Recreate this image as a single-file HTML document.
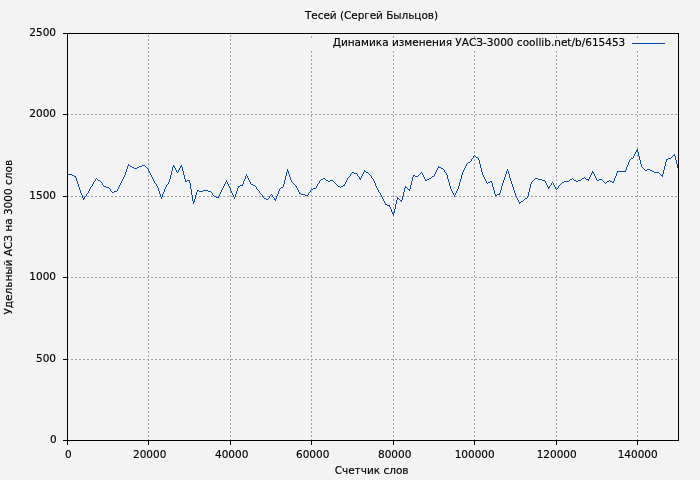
<!DOCTYPE html>
<html lang="ru"><head><meta charset="utf-8"><title>Тесей (Сергей Быльцов)</title>
<style>html,body{margin:0;padding:0;background:#f3f3f3;overflow:hidden}body{width:700px;height:480px}</style></head>
<body>
<svg width="700" height="480" viewBox="0 0 700 480" style="display:block">
<rect width="700" height="480" fill="#f3f3f3"/>
<g stroke="#a0a0a0" stroke-width="1" stroke-dasharray="2,2" shape-rendering="crispEdges"><line x1="148.5" y1="441" x2="148.5" y2="33"/><line x1="230.5" y1="441" x2="230.5" y2="33"/><line x1="311.5" y1="441" x2="311.5" y2="51"/><line x1="311.5" y1="38" x2="311.5" y2="36"/><line x1="393.5" y1="441" x2="393.5" y2="51"/><line x1="393.5" y1="38" x2="393.5" y2="36"/><line x1="474.5" y1="441" x2="474.5" y2="51"/><line x1="474.5" y1="38" x2="474.5" y2="36"/><line x1="556.5" y1="441" x2="556.5" y2="51"/><line x1="556.5" y1="38" x2="556.5" y2="36"/><line x1="637.5" y1="441" x2="637.5" y2="51"/><line x1="637.5" y1="38" x2="637.5" y2="36"/><line x1="67" y1="359.5" x2="678" y2="359.5"/><line x1="67" y1="277.5" x2="678" y2="277.5"/><line x1="67" y1="196.5" x2="678" y2="196.5"/><line x1="67" y1="114.5" x2="678" y2="114.5"/></g>
<g stroke="#000" stroke-width="1" shape-rendering="crispEdges"><line x1="67.5" y1="440" x2="67.5" y2="445"/><line x1="148.5" y1="440" x2="148.5" y2="445"/><line x1="230.5" y1="440" x2="230.5" y2="445"/><line x1="311.5" y1="440" x2="311.5" y2="445"/><line x1="393.5" y1="440" x2="393.5" y2="445"/><line x1="474.5" y1="440" x2="474.5" y2="445"/><line x1="556.5" y1="440" x2="556.5" y2="445"/><line x1="637.5" y1="440" x2="637.5" y2="445"/><line x1="63" y1="440.5" x2="67" y2="440.5"/><line x1="63" y1="359.5" x2="67" y2="359.5"/><line x1="63" y1="277.5" x2="67" y2="277.5"/><line x1="63" y1="196.5" x2="67" y2="196.5"/><line x1="63" y1="114.5" x2="67" y2="114.5"/><line x1="63" y1="33.5" x2="67" y2="33.5"/></g>
<g font-family="'DejaVu Sans', 'Liberation Sans', sans-serif" font-size="10.5px" fill="#000" stroke="#000" stroke-width="0.15">
<text x="56.8" y="442.6" text-anchor="end">0</text>
<text x="56" y="361.6" text-anchor="end">500</text>
<text x="56" y="279.6" text-anchor="end">1000</text>
<text x="56" y="198.6" text-anchor="end">1500</text>
<text x="56" y="116.6" text-anchor="end">2000</text>
<text x="56" y="35.6" text-anchor="end">2500</text>
<text x="68.4" y="458" text-anchor="middle">0</text>
<text x="149.7" y="458" text-anchor="middle">20000</text>
<text x="231.7" y="458" text-anchor="middle">40000</text>
<text x="312.7" y="458" text-anchor="middle">60000</text>
<text x="394.7" y="458" text-anchor="middle">80000</text>
<text x="474.7" y="458" text-anchor="middle">100000</text>
<text x="556.7" y="458" text-anchor="middle">120000</text>
<text x="637.7" y="458" text-anchor="middle">140000</text>
<text x="371.5" y="19.2" text-anchor="middle" textLength="133" lengthAdjust="spacing">Тесей (Сергей Быльцов)</text>
<text x="625.3" y="46.2" text-anchor="end">Динамика изменения УАСЗ-3000 coollib.net/b/615453</text>
<text x="371.6" y="473.7" text-anchor="middle">Счетчик слов</text>
<text transform="translate(11.8,237.2) rotate(-90)" text-anchor="middle">Удельный АСЗ на 3000 слов</text>
</g>
<line x1="632" y1="43.5" x2="665" y2="43.5" stroke="#0848ab" stroke-width="1" shape-rendering="crispEdges"/>
<path d="M67 174h1v1h-1zM68 174h1v1h-1zM69 174h1v1h-1zM70 174h1v1h-1zM71 174h1v1h-1zM72 175h1v1h-1zM73 175h1v1h-1zM74 176h1v1h-1zM75 176h1v2h-1zM76 178h1v3h-1zM77 181h1v3h-1zM78 184h1v3h-1zM79 187h1v3h-1zM80 190h1v3h-1zM81 193h1v2h-1zM82 195h1v3h-1zM83 198h1v2h-1zM84 197h1v2h-1zM85 196h1v1h-1zM86 194h1v2h-1zM87 193h1v1h-1zM88 191h1v2h-1zM89 189h1v2h-1zM90 187h1v2h-1zM91 186h1v1h-1zM92 184h1v2h-1zM93 182h1v2h-1zM94 181h1v1h-1zM95 179h1v2h-1zM96 178h1v1h-1zM97 179h1v1h-1zM98 180h1v1h-1zM99 180h1v1h-1zM100 181h1v1h-1zM101 182h1v1h-1zM102 183h1v2h-1zM103 185h1v1h-1zM104 186h1v1h-1zM105 186h1v1h-1zM106 187h1v1h-1zM107 187h1v1h-1zM108 187h1v1h-1zM109 188h1v1h-1zM110 189h1v2h-1zM111 191h1v1h-1zM112 192h1v1h-1zM113 192h1v1h-1zM114 191h1v1h-1zM115 191h1v1h-1zM116 191h1v1h-1zM117 189h1v2h-1zM118 187h1v2h-1zM119 185h1v2h-1zM120 183h1v2h-1zM121 181h1v2h-1zM122 179h1v2h-1zM123 177h1v2h-1zM124 175h1v2h-1zM125 172h1v3h-1zM126 169h1v3h-1zM127 166h1v3h-1zM128 164h1v2h-1zM129 165h1v1h-1zM130 166h1v1h-1zM131 166h1v1h-1zM132 167h1v1h-1zM133 167h1v1h-1zM134 168h1v1h-1zM135 168h1v1h-1zM136 168h1v1h-1zM137 167h1v1h-1zM138 167h1v1h-1zM139 166h1v1h-1zM140 166h1v1h-1zM141 166h1v1h-1zM142 165h1v1h-1zM143 165h1v1h-1zM144 165h1v1h-1zM145 166h1v1h-1zM146 167h1v1h-1zM147 168h1v1h-1zM148 169h1v2h-1zM149 171h1v2h-1zM150 173h1v2h-1zM151 175h1v2h-1zM152 177h1v2h-1zM153 179h1v2h-1zM154 181h1v2h-1zM155 183h1v1h-1zM156 184h1v2h-1zM157 186h1v2h-1zM158 188h1v3h-1zM159 191h1v3h-1zM160 194h1v3h-1zM161 197h1v2h-1zM162 194h1v3h-1zM163 192h1v2h-1zM164 189h1v3h-1zM165 187h1v2h-1zM166 185h1v2h-1zM167 184h1v1h-1zM168 182h1v2h-1zM169 179h1v3h-1zM170 175h1v4h-1zM171 171h1v4h-1zM172 167h1v4h-1zM173 165h1v2h-1zM174 166h1v2h-1zM175 168h1v2h-1zM176 170h1v2h-1zM177 172h1v1h-1zM178 170h1v2h-1zM179 168h1v2h-1zM180 166h1v2h-1zM181 165h1v2h-1zM182 167h1v4h-1zM183 171h1v4h-1zM184 175h1v4h-1zM185 179h1v3h-1zM186 181h1v1h-1zM187 180h1v1h-1zM188 180h1v1h-1zM189 180h1v3h-1zM190 183h1v6h-1zM191 189h1v6h-1zM192 195h1v6h-1zM193 201h1v3h-1zM194 199h1v3h-1zM195 195h1v4h-1zM196 192h1v3h-1zM197 190h1v2h-1zM198 190h1v1h-1zM199 191h1v1h-1zM200 191h1v1h-1zM201 191h1v1h-1zM202 191h1v1h-1zM203 190h1v1h-1zM204 190h1v1h-1zM205 190h1v1h-1zM206 190h1v1h-1zM207 190h1v1h-1zM208 191h1v1h-1zM209 191h1v1h-1zM210 191h1v1h-1zM211 192h1v1h-1zM212 193h1v2h-1zM213 195h1v1h-1zM214 196h1v1h-1zM215 196h1v1h-1zM216 197h1v1h-1zM217 197h1v1h-1zM218 196h1v2h-1zM219 194h1v2h-1zM220 192h1v2h-1zM221 190h1v2h-1zM222 188h1v2h-1zM223 186h1v2h-1zM224 184h1v2h-1zM225 182h1v2h-1zM226 180h1v2h-1zM227 182h1v2h-1zM228 184h1v2h-1zM229 186h1v2h-1zM230 188h1v3h-1zM231 191h1v2h-1zM232 193h1v2h-1zM233 195h1v2h-1zM234 197h1v2h-1zM235 194h1v3h-1zM236 191h1v3h-1zM237 188h1v3h-1zM238 186h1v2h-1zM239 186h1v1h-1zM240 185h1v1h-1zM241 185h1v1h-1zM242 184h1v2h-1zM243 181h1v3h-1zM244 179h1v2h-1zM245 176h1v3h-1zM246 174h1v2h-1zM247 176h1v2h-1zM248 178h1v2h-1zM249 180h1v2h-1zM250 182h1v2h-1zM251 184h1v1h-1zM252 184h1v1h-1zM253 185h1v1h-1zM254 185h1v1h-1zM255 186h1v1h-1zM256 187h1v2h-1zM257 189h1v1h-1zM258 190h1v1h-1zM259 191h1v2h-1zM260 193h1v1h-1zM261 194h1v1h-1zM262 195h1v2h-1zM263 197h1v1h-1zM264 198h1v1h-1zM265 198h1v1h-1zM266 199h1v1h-1zM267 199h1v1h-1zM268 198h1v1h-1zM269 196h1v2h-1zM270 195h1v1h-1zM271 194h1v1h-1zM272 195h1v2h-1zM273 197h1v1h-1zM274 198h1v2h-1zM275 199h1v2h-1zM276 196h1v3h-1zM277 194h1v2h-1zM278 191h1v3h-1zM279 189h1v2h-1zM280 188h1v1h-1zM281 187h1v1h-1zM282 187h1v1h-1zM283 184h1v3h-1zM284 180h1v4h-1zM285 176h1v4h-1zM286 172h1v4h-1zM287 169h1v3h-1zM288 171h1v3h-1zM289 174h1v3h-1zM290 177h1v3h-1zM291 180h1v2h-1zM292 182h1v1h-1zM293 183h1v1h-1zM294 184h1v1h-1zM295 185h1v1h-1zM296 186h1v2h-1zM297 188h1v2h-1zM298 190h1v2h-1zM299 192h1v2h-1zM300 193h1v1h-1zM301 194h1v1h-1zM302 194h1v1h-1zM303 194h1v1h-1zM304 194h1v1h-1zM305 195h1v1h-1zM306 195h1v1h-1zM307 195h1v1h-1zM308 193h1v2h-1zM309 192h1v1h-1zM310 190h1v2h-1zM311 189h1v1h-1zM312 189h1v1h-1zM313 188h1v1h-1zM314 188h1v1h-1zM315 188h1v1h-1zM316 186h1v2h-1zM317 184h1v2h-1zM318 183h1v1h-1zM319 181h1v2h-1zM320 180h1v1h-1zM321 179h1v1h-1zM322 179h1v1h-1zM323 178h1v1h-1zM324 178h1v1h-1zM325 179h1v1h-1zM326 180h1v1h-1zM327 180h1v1h-1zM328 181h1v1h-1zM329 181h1v1h-1zM330 180h1v1h-1zM331 180h1v1h-1zM332 180h1v1h-1zM333 181h1v1h-1zM334 182h1v1h-1zM335 183h1v1h-1zM336 184h1v1h-1zM337 185h1v1h-1zM338 186h1v1h-1zM339 186h1v1h-1zM340 187h1v1h-1zM341 186h1v1h-1zM342 186h1v1h-1zM343 185h1v1h-1zM344 184h1v2h-1zM345 182h1v2h-1zM346 180h1v2h-1zM347 178h1v2h-1zM348 177h1v1h-1zM349 176h1v1h-1zM350 174h1v2h-1zM351 173h1v1h-1zM352 172h1v1h-1zM353 172h1v1h-1zM354 173h1v1h-1zM355 173h1v1h-1zM356 173h1v1h-1zM357 174h1v2h-1zM358 176h1v1h-1zM359 177h1v2h-1zM360 178h1v2h-1zM361 176h1v2h-1zM362 174h1v2h-1zM363 172h1v2h-1zM364 170h1v2h-1zM365 171h1v1h-1zM366 172h1v1h-1zM367 172h1v1h-1zM368 173h1v1h-1zM369 174h1v1h-1zM370 175h1v1h-1zM371 176h1v2h-1zM372 178h1v1h-1zM373 179h1v2h-1zM374 181h1v2h-1zM375 183h1v3h-1zM376 186h1v2h-1zM377 188h1v2h-1zM378 190h1v2h-1zM379 192h1v1h-1zM380 193h1v2h-1zM381 195h1v2h-1zM382 197h1v2h-1zM383 199h1v2h-1zM384 201h1v2h-1zM385 203h1v2h-1zM386 204h1v1h-1zM387 205h1v1h-1zM388 205h1v1h-1zM389 205h1v2h-1zM390 207h1v2h-1zM391 209h1v3h-1zM392 212h1v2h-1zM393 213h1v3h-1zM394 209h1v4h-1zM395 204h1v5h-1zM396 200h1v4h-1zM397 197h1v3h-1zM398 198h1v1h-1zM399 199h1v1h-1zM400 200h1v1h-1zM401 200h1v2h-1zM402 196h1v4h-1zM403 192h1v4h-1zM404 188h1v4h-1zM405 186h1v2h-1zM406 187h1v1h-1zM407 188h1v1h-1zM408 189h1v1h-1zM409 189h1v2h-1zM410 185h1v4h-1zM411 181h1v4h-1zM412 177h1v4h-1zM413 175h1v2h-1zM414 175h1v1h-1zM415 176h1v1h-1zM416 176h1v1h-1zM417 176h1v1h-1zM418 175h1v1h-1zM419 174h1v1h-1zM420 173h1v1h-1zM421 172h1v1h-1zM422 173h1v2h-1zM423 175h1v2h-1zM424 177h1v2h-1zM425 179h1v2h-1zM426 180h1v1h-1zM427 179h1v1h-1zM428 179h1v1h-1zM429 178h1v1h-1zM430 178h1v1h-1zM431 177h1v1h-1zM432 176h1v1h-1zM433 176h1v1h-1zM434 174h1v2h-1zM435 172h1v2h-1zM436 170h1v2h-1zM437 168h1v2h-1zM438 166h1v2h-1zM439 167h1v1h-1zM440 167h1v1h-1zM441 168h1v1h-1zM442 168h1v1h-1zM443 169h1v1h-1zM444 170h1v2h-1zM445 172h1v1h-1zM446 173h1v2h-1zM447 175h1v4h-1zM448 179h1v3h-1zM449 182h1v4h-1zM450 186h1v3h-1zM451 189h1v2h-1zM452 191h1v2h-1zM453 193h1v2h-1zM454 195h1v2h-1zM455 193h1v2h-1zM456 191h1v2h-1zM457 189h1v2h-1zM458 186h1v3h-1zM459 182h1v4h-1zM460 179h1v3h-1zM461 175h1v4h-1zM462 172h1v3h-1zM463 170h1v2h-1zM464 168h1v2h-1zM465 166h1v2h-1zM466 164h1v2h-1zM467 163h1v1h-1zM468 162h1v1h-1zM469 162h1v1h-1zM470 161h1v1h-1zM471 159h1v2h-1zM472 158h1v1h-1zM473 156h1v2h-1zM474 155h1v1h-1zM475 156h1v1h-1zM476 157h1v1h-1zM477 157h1v1h-1zM478 158h1v2h-1zM479 160h1v4h-1zM480 164h1v4h-1zM481 168h1v4h-1zM482 172h1v3h-1zM483 175h1v2h-1zM484 177h1v2h-1zM485 179h1v2h-1zM486 181h1v2h-1zM487 183h1v1h-1zM488 182h1v1h-1zM489 182h1v1h-1zM490 181h1v1h-1zM491 181h1v2h-1zM492 183h1v4h-1zM493 187h1v3h-1zM494 190h1v4h-1zM495 194h1v2h-1zM496 195h1v1h-1zM497 194h1v1h-1zM498 194h1v1h-1zM499 193h1v2h-1zM500 190h1v3h-1zM501 186h1v4h-1zM502 183h1v3h-1zM503 180h1v3h-1zM504 177h1v3h-1zM505 174h1v3h-1zM506 171h1v3h-1zM507 169h1v2h-1zM508 171h1v3h-1zM509 174h1v4h-1zM510 178h1v3h-1zM511 181h1v3h-1zM512 184h1v3h-1zM513 187h1v3h-1zM514 190h1v3h-1zM515 193h1v3h-1zM516 196h1v2h-1zM517 198h1v2h-1zM518 200h1v2h-1zM519 202h1v2h-1zM520 202h1v1h-1zM521 201h1v1h-1zM522 201h1v1h-1zM523 200h1v1h-1zM524 199h1v1h-1zM525 198h1v1h-1zM526 198h1v1h-1zM527 196h1v2h-1zM528 192h1v4h-1zM529 188h1v4h-1zM530 184h1v4h-1zM531 182h1v2h-1zM532 181h1v1h-1zM533 180h1v1h-1zM534 179h1v1h-1zM535 178h1v1h-1zM536 178h1v1h-1zM537 178h1v1h-1zM538 179h1v1h-1zM539 179h1v1h-1zM540 179h1v1h-1zM541 179h1v1h-1zM542 180h1v1h-1zM543 180h1v1h-1zM544 180h1v1h-1zM545 181h1v2h-1zM546 183h1v2h-1zM547 185h1v2h-1zM548 187h1v2h-1zM549 186h1v2h-1zM550 185h1v1h-1zM551 183h1v2h-1zM552 182h1v1h-1zM553 183h1v2h-1zM554 185h1v2h-1zM555 187h1v2h-1zM556 189h1v1h-1zM557 188h1v1h-1zM558 186h1v2h-1zM559 185h1v1h-1zM560 184h1v1h-1zM561 183h1v1h-1zM562 182h1v1h-1zM563 182h1v1h-1zM564 181h1v1h-1zM565 181h1v1h-1zM566 181h1v1h-1zM567 181h1v1h-1zM568 181h1v1h-1zM569 180h1v1h-1zM570 179h1v1h-1zM571 179h1v1h-1zM572 178h1v1h-1zM573 179h1v1h-1zM574 180h1v1h-1zM575 180h1v1h-1zM576 181h1v1h-1zM577 181h1v1h-1zM578 180h1v1h-1zM579 180h1v1h-1zM580 180h1v1h-1zM581 179h1v1h-1zM582 178h1v1h-1zM583 178h1v1h-1zM584 177h1v1h-1zM585 178h1v1h-1zM586 179h1v1h-1zM587 179h1v1h-1zM588 179h1v2h-1zM589 177h1v2h-1zM590 175h1v2h-1zM591 173h1v2h-1zM592 171h1v2h-1zM593 172h1v2h-1zM594 174h1v2h-1zM595 176h1v2h-1zM596 178h1v2h-1zM597 180h1v1h-1zM598 180h1v1h-1zM599 179h1v1h-1zM600 179h1v1h-1zM601 179h1v1h-1zM602 180h1v1h-1zM603 181h1v1h-1zM604 182h1v1h-1zM605 183h1v1h-1zM606 182h1v1h-1zM607 181h1v1h-1zM608 181h1v1h-1zM609 180h1v1h-1zM610 181h1v1h-1zM611 181h1v1h-1zM612 182h1v1h-1zM613 181h1v2h-1zM614 178h1v3h-1zM615 176h1v2h-1zM616 173h1v3h-1zM617 171h1v2h-1zM618 171h1v1h-1zM619 171h1v1h-1zM620 171h1v1h-1zM621 171h1v1h-1zM622 171h1v1h-1zM623 171h1v1h-1zM624 171h1v1h-1zM625 170h1v2h-1zM626 167h1v3h-1zM627 165h1v2h-1zM628 162h1v3h-1zM629 160h1v2h-1zM630 159h1v1h-1zM631 158h1v1h-1zM632 158h1v1h-1zM633 156h1v2h-1zM634 154h1v2h-1zM635 152h1v2h-1zM636 150h1v2h-1zM637 149h1v3h-1zM638 152h1v4h-1zM639 156h1v4h-1zM640 160h1v4h-1zM641 164h1v3h-1zM642 167h1v1h-1zM643 168h1v1h-1zM644 169h1v1h-1zM645 170h1v1h-1zM646 170h1v1h-1zM647 169h1v1h-1zM648 169h1v1h-1zM649 169h1v1h-1zM650 170h1v1h-1zM651 170h1v1h-1zM652 171h1v1h-1zM653 171h1v1h-1zM654 172h1v1h-1zM655 172h1v1h-1zM656 172h1v1h-1zM657 172h1v1h-1zM658 172h1v1h-1zM659 173h1v1h-1zM660 174h1v1h-1zM661 175h1v1h-1zM662 174h1v3h-1zM663 170h1v4h-1zM664 166h1v4h-1zM665 162h1v4h-1zM666 159h1v3h-1zM667 159h1v1h-1zM668 158h1v1h-1zM669 158h1v1h-1zM670 158h1v1h-1zM671 157h1v1h-1zM672 156h1v1h-1zM673 155h1v1h-1zM674 154h1v2h-1zM675 156h1v4h-1zM676 160h1v4h-1zM677 164h1v4h-1zM678 168h1v2h-1z" fill="#0848ab" shape-rendering="crispEdges"/>
<rect x="67.5" y="33.5" width="611" height="407" fill="none" stroke="#000" stroke-width="1" shape-rendering="crispEdges"/>
</svg>
</body></html>
